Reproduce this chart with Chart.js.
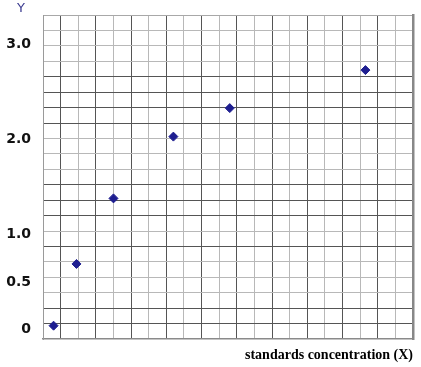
<!DOCTYPE html>
<html>
<head>
<meta charset="utf-8">
<script src="https://cdn.jsdelivr.net/npm/chart.js@4/dist/chart.umd.min.js"></script>
<style>
  html, body { margin: 0; padding: 0; background: #fff; }
  #wrap { width: 421px; height: 367px; position: relative; }
</style>
</head>
<body>
<div id="wrap"><canvas id="c"></canvas></div>
<script>
// ---- data ----
const xValues = [0.6, 1.9, 4.0, 7.4, 10.6, 18.3];       // concentration (grid units)
const yValues = [0.04, 0.69, 1.38, 2.03, 2.33, 2.73];   // response Y
const yTickValues = [0, 0.5, 1, 2, 3];
const yAxisLabel = 'Y';
const xAxisLabel = 'standards concentration (X)';

// ---- styling helpers ----
const DARK = '#555555';
const LIGHT = '#b8b8b8';
const darkRows = [1, 2, 6, 8, 9, 10, 14, 15, 16, 17];

const yLabelPlugin = {
  id: 'yLabel',
  afterDraw(chart) {
    const ctx = chart.ctx;
    ctx.save();
    ctx.font = '13px "DejaVu Sans", sans-serif';
    ctx.fillStyle = '#3b3b90';
    ctx.textAlign = 'center';
    ctx.textBaseline = 'middle';
    ctx.fillText(yAxisLabel, 21, 9);
    ctx.restore();
  }
};

const points = xValues.map((x, i) => ({ x: x, y: yValues[i] }));

new Chart(document.getElementById('c'), {
  type: 'scatter',
  data: {
    datasets: [{
      data: points,
      pointStyle: 'rectRot',
      pointRadius: 4.5,
      pointHoverRadius: 4.5,
      backgroundColor: '#1e1e90',
      borderColor: '#1e1e90',
      borderWidth: 1
    }]
  },
  options: {
    responsive: true,
    maintainAspectRatio: false,
    animation: false,
    events: [],
    layout: { padding: { left: 0, right: 8, top: 15, bottom: 0 } },
    plugins: { legend: { display: false }, tooltip: { enabled: false } },
    scales: {
      x: {
        type: 'linear',
        min: 0, max: 21,
        ticks: { display: false, stepSize: 1 },
        grid: {
          drawTicks: false,
          lineWidth: 1,
          color: ctx => (ctx.index === 0 || ctx.index === 21) ? 'rgba(0,0,0,0)' : (ctx.index % 2 === 1 ? DARK : LIGHT)
        },
        border: { display: true, color: '#8a8a8a', width: 1.5 },
        title: {
          display: true,
          text: xAxisLabel,
          align: 'end',
          color: '#000',
          font: { family: '"Liberation Serif", "Times New Roman", serif', size: 14, weight: 'bold' },
          padding: { top: 3, bottom: 3 }
        },
        afterFit: s => { s.height = 28; }
      },
      y: {
        type: 'linear',
        position: 'left',
        min: -0.1, max: 3.31,
        afterBuildTicks: s => { s.ticks = yTickValues.map(v => ({ value: v })); },
        ticks: {
          padding: 12,
          color: '#111',
          font: { family: '"DejaVu Sans", sans-serif', size: 14, weight: 'bold' },
          callback: v => v === 0 ? '0' : Number(v).toFixed(1)
        },
        grid: { display: false, drawTicks: false },
        border: { display: true, color: '#9a9a9a', width: 1 },
        afterFit: s => { s.width = 43; s.paddingTop = 0; s.paddingBottom = 0; }
      },
      yg: {
        type: 'linear',
        position: 'right',
        min: 0, max: 21,
        ticks: { display: false, stepSize: 1 },
        grid: {
          drawTicks: false,
          lineWidth: 1,
          color: ctx => ctx.index === 0 ? 'rgba(0,0,0,0)' : (ctx.index === 21 ? '#a8a8a8' : (darkRows.includes(ctx.index) ? DARK : LIGHT))
        },
        border: { display: true, color: '#888888', width: 2.5 },
        afterFit: s => { s.width = 0; s.paddingTop = 0; s.paddingBottom = 0; }
      }
    }
  },
  plugins: [yLabelPlugin]
});
</script>
</body>
</html>
